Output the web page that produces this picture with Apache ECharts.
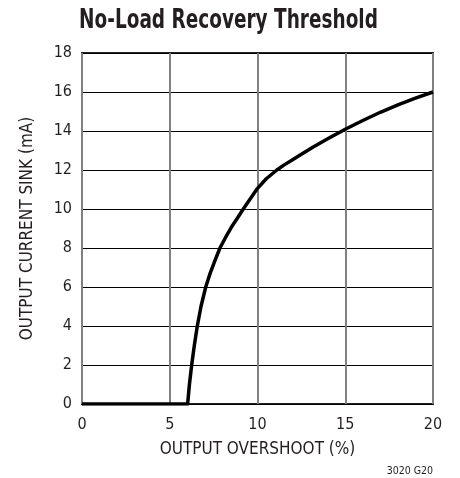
<!DOCTYPE html>
<html><head><meta charset="utf-8">
<script src="https://cdn.jsdelivr.net/npm/echarts@6/dist/echarts.min.js"></script>
<style>html,body{margin:0;padding:0;background:#fff;}#c{width:460px;height:478px;}</style>
</head><body><div id="c"></div>
<script>
var overshoot = [0, 6.02, 6.12, 6.25, 6.4, 6.57, 6.78, 7.05, 7.3, 7.58, 7.86, 8.18, 8.5, 8.85, 9.19, 9.6, 10.0, 10.5, 11.1, 11.5, 12.0, 12.5, 13.2, 14.0, 15.0, 16.0, 17.0, 18.0, 19.0, 20.0];
var sinkCurrent = [0, 0, 1, 2, 3, 4, 5, 6, 6.7, 7.36, 8, 8.54, 9.05, 9.53, 10, 10.54, 11.06, 11.55, 12.0, 12.25, 12.53, 12.81, 13.19, 13.6, 14.09, 14.54, 14.96, 15.34, 15.69, 16.0];
var xTicks = [0, 5, 10, 15, 20];
var yTicks = [0, 2, 4, 6, 8, 10, 12, 14, 16, 18];
var titleText = 'No-Load Recovery Threshold';
var xName = 'OUTPUT OVERSHOOT (%)';
var yName = 'OUTPUT CURRENT SINK (mA)';
var noteText = '3020 G20';

var F = '"DejaVu Sans Condensed", "Liberation Sans Narrow", sans-serif';
var chart = echarts.init(document.getElementById('c'), null, {renderer: 'canvas'});
var data = overshoot.map(function (x, i) { return [x, sinkCurrent[i]]; });
chart.setOption({
  animation: false,
  graphic: [
    {type: 'text', x: 228.5, y: 8, scaleX: 0.79, originX: 0,
      style: {text: titleText, fontFamily: F, fontWeight: 'bold', fontSize: 26, fill: '#231f20',
        align: 'center', verticalAlign: 'top'}},
    {type: 'text', x: 433, y: 466,
      style: {text: noteText, fontFamily: F, fontSize: 10.5, fill: '#231f20', align: 'right', verticalAlign: 'top'}}
  ],
  grid: {left: 82, top: 53, right: 27, bottom: 74, show: true, borderColor: '#231f20', borderWidth: 2},
  xAxis: {type: 'value', min: xTicks[0], max: xTicks[xTicks.length - 1], interval: 5,
    name: xName, nameLocation: 'middle', nameGap: 37,
    nameTextStyle: {fontFamily: F, fontSize: 17, color: '#231f20'},
    axisLine: {show: false}, axisTick: {show: false},
    axisLabel: {fontFamily: F, fontSize: 16, color: '#231f20', margin: 13},
    splitLine: {show: true, lineStyle: {color: '#808080', width: 2}}},
  yAxis: {type: 'value', min: yTicks[0], max: yTicks[yTicks.length - 1], interval: 2,
    name: yName, nameLocation: 'middle', nameGap: 46, nameRotate: 90,
    nameTextStyle: {fontFamily: F, fontSize: 17, color: '#231f20'},
    axisLine: {show: false}, axisTick: {show: false},
    axisLabel: {fontFamily: F, fontSize: 16, color: '#231f20', margin: 10},
    splitLine: {show: true, lineStyle: {color: '#000', width: 1}}},
  series: [{type: 'line', data: data, smooth: false, symbol: 'none',
    lineStyle: {color: '#000', width: 3.5, join: 'round'}}]
});
</script></body></html>
